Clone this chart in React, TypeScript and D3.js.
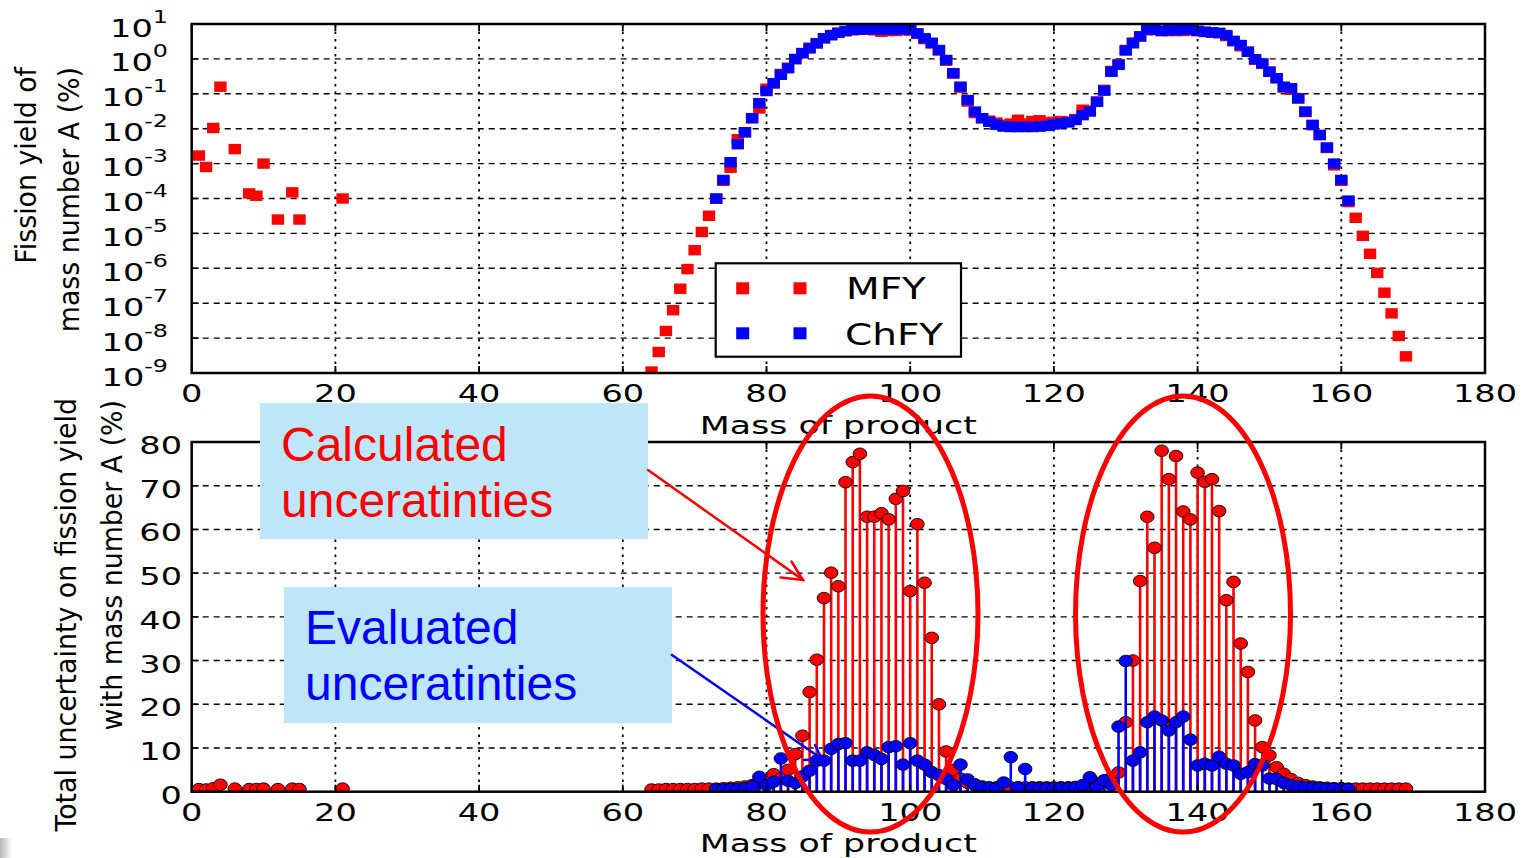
import React from 'react';
import * as d3 from 'd3';

// ---------------- DATA ----------------
// Top panel: fission yield (%) per mass number A
const lowMass = [1, 2, 3, 4, 6, 8, 9, 10, 12, 14, 15, 21];
const lowMFY = [1.7e-3, 8e-4, 1.05e-2, 0.16, 2.6e-3, 1.4e-4, 1.2e-4, 1.0e-3, 2.5e-5, 1.5e-4, 2.5e-5, 1.0e-4];

const mfyMass = d3.range(64, 170);
const mfyYield = [
  1.1e-9, 4.0e-9, 1.6e-8, 6.3e-8, 2.6e-7, 9.5e-7, 3.3e-6, 1.1e-5, 3.2e-5, 9.8e-5,
  3.2e-4, 7.6e-4, 5.0e-3, 7.9e-3, 2.0e-2, 3.8e-2, 0.14, 0.20, 0.37, 0.56,
  1.0, 1.48, 2.1, 2.8, 3.9, 4.8, 5.6, 6.2, 6.6, 6.8,
  6.8, 6.6, 6.0, 6.3, 6.3, 6.6, 6.5, 5.2, 3.7, 2.75,
  1.74, 0.89, 0.38, 0.15, 0.06, 0.028, 0.020, 0.017, 0.015, 0.013,
  0.014, 0.018, 0.014, 0.0166, 0.0174, 0.0151, 0.0158, 0.0166, 0.0158, 0.019,
  0.035, 0.033, 0.060, 0.13, 0.45, 0.71, 1.8, 2.95, 4.4, 6.6,
  6.8, 6.3, 6.3, 6.3, 6.3, 6.6, 6.3, 5.9, 5.6, 5.4,
  4.5, 3.2, 2.3, 1.6, 0.95, 0.72, 0.43, 0.28, 0.15, 0.13,
  0.074, 0.030, 0.0126, 0.0066, 0.0028, 8.9e-4, 3.2e-4, 7.9e-5, 2.8e-5, 8.5e-6,
  2.6e-6, 7.4e-7, 2.0e-7, 5.1e-8, 1.15e-8, 3.0e-9,
];

const chfyMass = d3.range(73, 162);
const chfyYield = [
  1.0e-4, 3.4e-4, 1.1e-3, 3.6e-3, 7.9e-3, 2.0e-2, 5.4e-2, 0.12, 0.20, 0.35,
  0.54, 0.98, 1.45, 2.0, 2.8, 3.9, 4.8, 5.6, 6.3, 6.8,
  6.9, 7.1, 7.1, 6.9, 6.9, 6.9, 6.9, 6.8, 5.4, 3.9,
  2.9, 1.8, 0.93, 0.39, 0.16, 0.066, 0.031, 0.020, 0.0158, 0.0129,
  0.0115, 0.0112, 0.0112, 0.0112, 0.0112, 0.0115, 0.012, 0.0132, 0.0141, 0.0151,
  0.0178, 0.0245, 0.031, 0.059, 0.123, 0.43, 0.68, 1.74, 2.8, 4.4,
  7.1, 6.8, 6.3, 6.6, 6.6, 6.8, 6.8, 6.3, 6.0, 5.75,
  5.6, 4.8, 3.3, 2.5, 1.6, 0.98, 0.74, 0.43, 0.28, 0.16,
  0.145, 0.074, 0.031, 0.0129, 0.0066, 0.0029, 1.0e-3, 3.4e-4, 8.7e-5,
];

// Bottom panel: total uncertainty (%) per mass number A
const lowUnc = [0.6, 0.5, 0.8, 1.6, 0.7, 0.6, 0.6, 0.7, 0.6, 0.7, 0.6, 0.7];

const calcUnc = [
  0.5, 0.5, 0.6, 0.6, 0.6, 0.6, 0.6, 0.7, 0.7,
  0.7, 0.8, 0.9, 1.0, 1.2, 1.5, 2.0, 2.5, 4.0, 3.0, 5.0,
  8.6, 12.8, 22.8, 30.2, 44.3, 50.1, 47.0, 70.8, 75.4, 77.3, 62.9,
  62.9, 63.7, 62.3, 67.0, 68.8, 45.9, 61.2, 47.8, 35.2, 20.0, 9.2,
  5.0, 3.0, 2.0, 1.5, 1.2, 1.0, 1.0, 1.0, 1.0, 1.0, 1.0, 1.0,
  1.0, 1.0, 1.0, 1.0, 1.0, 1.1, 1.3, 1.6, 2.0, 2.5, 3.2, 4.4,
  15.9, 30.0, 48.2, 62.9, 55.8, 78.0, 71.5, 76.8, 64.1, 62.3, 73.0, 70.9, 71.5, 64.2,
  43.8, 48.0, 33.9, 27.4, 16.3, 10.2, 8.3, 5.6, 4.1, 2.9, 2.0, 1.5, 1.2,
  1.0, 0.9, 0.8, 0.8, 0.7, 0.7, 0.7, 0.7, 0.7, 0.7, 0.7, 0.7, 0.7,
];

const evalUnc = [
  0.5, 0.5, 0.6, 0.6, 0.8, 1.2,
  3.4, 1.5, 2.3, 7.6, 2.5, 2.0, 3.5, 4.8, 7.1, 7.1,
  9.8, 10.9, 11.1, 7.1, 7.1, 9.0, 8.4, 7.5, 10.2, 10.4,
  6.2, 11.1, 7.1, 6.2, 4.5, 3.8, 2.9, 1.5, 6.2, 2.8,
  1.7, 1.0, 0.9, 0.8, 2.1, 7.9, 1.0, 5.2, 0.9, 0.8,
  0.8, 0.8, 0.9, 0.9, 1.0, 1.5, 3.3, 1.2, 2.6, 1.5,
  14.9, 29.9, 7.1, 9.0, 15.9, 17.2, 16.3, 14.0, 15.9, 17.2,
  11.9, 6.0, 6.4, 6.0, 8.0, 6.4, 6.0, 4.1, 4.5, 6.3,
  6.0, 3.0, 2.9, 2.0, 1.5, 1.2, 1.0, 0.9, 0.8, 0.7,
  0.7, 0.7, 0.6,
];

const xTicks = [0, 20, 40, 60, 80, 100, 120, 140, 160, 180];
const topExponents = [-9, -8, -7, -6, -5, -4, -3, -2, -1, 0, 1];
const bottomTicks = [0, 10, 20, 30, 40, 50, 60, 70, 80];

const legendLabels = ['MFY', 'ChFY'];
const annotationCalc = ['Calculated', 'unceratinties'];
const annotationEval = ['Evaluated', 'unceratinties'];

// ---------------- LAYOUT ----------------
const W = 1527, H = 858;
const L = 191.7, R = 1485;
const T1 = 24, B1 = 373;
const T2 = 442, B2 = 791.7;
const FONT = "'DejaVu Sans', Verdana, sans-serif";
const SX = 1.4;
const RED = '#ff0000';
const BLUE = '#0000ff';

type STextProps = {
  x: number; y: number; size: number; anchor?: string; sx?: number;
  fill?: string; family?: string; children?: React.ReactNode;
};
const SText = ({ x, y, size, anchor = 'middle', sx = SX, fill = '#000', family = FONT, children }: STextProps) => (
  <text transform={`translate(${x},${y}) scale(${sx},1)`} fontSize={size} textAnchor={anchor as any}
    fill={fill} fontFamily={family}>{children}</text>
);

const VText = ({ x, y, size, children }: { x: number; y: number; size: number; children?: React.ReactNode }) => (
  <text transform={`translate(${x},${y}) rotate(-90) scale(1,1.08)`} fontSize={size} textAnchor="end"
    fontFamily={FONT} fill="#000">{children}</text>
);

export default function App() {
  const x = d3.scaleLinear().domain([0, 180]).range([L, R]);
  const yT = d3.scaleLog().domain([1e-9, 10]).range([B1, T1]);
  const yB = d3.scaleLinear().domain([0, 80]).range([B2, T2]);

  const majorVals = topExponents.map((e) => Math.pow(10, e));
  const minorVals = yT.ticks().filter((v) => {
    const l = Math.log10(v);
    return Math.abs(l - Math.round(l)) > 1e-6;
  });

  const redSquares = [
    ...lowMass.map((a, i) => [a, lowMFY[i]]),
    ...mfyMass.map((a, i) => [a, mfyYield[i]]),
  ];
  const blueSquares = chfyMass.map((a, i) => [a, chfyYield[i]]);

  const redStems = [
    ...lowMass.map((a, i) => [a, lowUnc[i]]),
    ...mfyMass.map((a, i) => [a, calcUnc[i]]),
  ];
  const blueStems = chfyMass.map((a, i) => [a, evalUnc[i]]);

  const hGridStyle = { stroke: '#000', strokeWidth: 1.4, strokeDasharray: '6,5' };
  const vGridStyle = { stroke: '#000', strokeWidth: 1.8, strokeDasharray: '2.5,5' };

  const stemGroup = (pts: number[][], color: string) => (
    <g>
      {pts.map(([a, v], i) => (
        <line key={'s' + i} x1={x(a)} x2={x(a)} y1={yB(0)} y2={yB(v)} stroke={color} strokeWidth={2.6} />
      ))}
      {pts.map(([a, v], i) => (
        <ellipse key={'m' + i} cx={x(a)} cy={yB(v)} rx={6.8} ry={5.8} fill={color} stroke="#000" strokeWidth={0.9} />
      ))}
    </g>
  );

  return (
    <svg width={W} height={H} viewBox={`0 0 ${W} ${H}`}
      style={{ position: 'absolute', left: 0, top: 0, background: '#fff' }}>
      <defs>
        <clipPath id="clipTop"><rect x={L} y={T1} width={R - L} height={B1 - T1} /></clipPath>
        <clipPath id="clipBot"><rect x={L} y={T2} width={R - L} height={B2 - T2} /></clipPath>
        <linearGradient id="cornerGrad" x1="0" x2="1" y1="0" y2="0">
          <stop offset="0" stopColor="#b8b8b8" />
          <stop offset="1" stopColor="#ffffff" />
        </linearGradient>
      </defs>
      <rect x={0} y={0} width={W} height={H} fill="#fff" />

      {/* ============ TOP PANEL ============ */}
      <g>
        {majorVals.slice(1, -1).map((v, i) => (
          <line key={'hg' + i} x1={L} x2={R} y1={yT(v)} y2={yT(v)} {...hGridStyle} />
        ))}
        {xTicks.slice(1, -1).map((t, i) => (
          <line key={'vg' + i} x1={x(t)} x2={x(t)} y1={T1} y2={B1} {...vGridStyle} />
        ))}
        <g clipPath="url(#clipTop)">
          {redSquares.map(([a, v], i) => (
            <rect key={'r' + i} x={x(a) - 6.2} y={yT(v) - 5.2} width={12.4} height={10.4} fill={RED} />
          ))}
          {blueSquares.map(([a, v], i) => (
            <rect key={'b' + i} x={x(a) - 6.2} y={yT(v) - 5.2} width={12.4} height={10.4} fill={BLUE} />
          ))}
        </g>
        {majorVals.map((v, i) => (
          <g key={'mt' + i}>
            <line x1={L} x2={L + 7} y1={yT(v)} y2={yT(v)} stroke="#000" strokeWidth={1.5} />
            <line x1={R} x2={R - 7} y1={yT(v)} y2={yT(v)} stroke="#000" strokeWidth={1.5} />
          </g>
        ))}
        {minorVals.map((v, i) => (
          <g key={'nt' + i}>
            <line x1={L} x2={L + 4} y1={yT(v)} y2={yT(v)} stroke="#000" strokeWidth={1.2} />
            <line x1={R} x2={R - 4} y1={yT(v)} y2={yT(v)} stroke="#000" strokeWidth={1.2} />
          </g>
        ))}
        {xTicks.map((t, i) => (
          <g key={'xt' + i}>
            <line x1={x(t)} x2={x(t)} y1={B1} y2={B1 - 7} stroke="#000" strokeWidth={1.8} />
            <line x1={x(t)} x2={x(t)} y1={T1} y2={T1 + 7} stroke="#000" strokeWidth={1.8} />
          </g>
        ))}
        <rect x={L} y={T1} width={R - L} height={B1 - T1} fill="none" stroke="#000" strokeWidth={2.5} />

        {topExponents.map((e, i) => (
          <SText key={'yl' + i} x={168} y={yT(Math.pow(10, e)) + 12.5} size={24} anchor="end">
            10<tspan fontSize={17} dy={-14}>{String(e)}</tspan>
          </SText>
        ))}
        {xTicks.map((t, i) => (
          <SText key={'xl' + i} x={x(t)} y={402} size={24}>{String(t)}</SText>
        ))}
        <SText x={(L + R) / 2} y={434} size={24} sx={1.45}>Mass of product</SText>
        <VText x={36} y={67} size={26.8}>Fission yield of</VText>
        <VText x={79} y={67} size={26.8}>mass number A (%)</VText>

        {/* legend */}
        <rect x={715.7} y={263.3} width={245.3} height={93.4} fill="#fff" stroke="#000" strokeWidth={2.2} />
        {[742.7, 800].map((lx, i) => (
          <rect key={'lr' + i} x={lx - 6.5} y={288.3 - 6} width={13} height={12} fill={RED} />
        ))}
        {[742.7, 800].map((lx, i) => (
          <rect key={'lb' + i} x={lx - 6.5} y={333.3 - 6} width={13} height={12} fill={BLUE} />
        ))}
        <SText x={846} y={298.5} size={30} anchor="start" sx={1.3}>{legendLabels[0]}</SText>
        <SText x={845} y={344.5} size={30} anchor="start" sx={1.3}>{legendLabels[1]}</SText>
      </g>

      {/* ============ BOTTOM PANEL ============ */}
      <g>
        {bottomTicks.slice(1, -1).map((v, i) => (
          <line key={'bhg' + i} x1={L} x2={R} y1={yB(v)} y2={yB(v)} {...hGridStyle} />
        ))}
        {xTicks.slice(1, -1).map((t, i) => (
          <line key={'bvg' + i} x1={x(t)} x2={x(t)} y1={T2} y2={B2} {...vGridStyle} />
        ))}
        <g clipPath="url(#clipBot)">
          {stemGroup(redStems, RED)}
          {stemGroup(blueStems, BLUE)}
        </g>
        {bottomTicks.map((v, i) => (
          <g key={'bt' + i}>
            <line x1={L} x2={L + 7} y1={yB(v)} y2={yB(v)} stroke="#000" strokeWidth={1.5} />
            <line x1={R} x2={R - 7} y1={yB(v)} y2={yB(v)} stroke="#000" strokeWidth={1.5} />
          </g>
        ))}
        {xTicks.map((t, i) => (
          <g key={'bxt' + i}>
            <line x1={x(t)} x2={x(t)} y1={B2} y2={B2 - 7} stroke="#000" strokeWidth={1.8} />
            <line x1={x(t)} x2={x(t)} y1={T2} y2={T2 + 7} stroke="#000" strokeWidth={1.8} />
          </g>
        ))}
        <rect x={L} y={T2} width={R - L} height={B2 - T2} fill="none" stroke="#000" strokeWidth={2.5} />
        {bottomTicks.map((v, i) => (
          <SText key={'byl' + i} x={182} y={yB(v) + 12} size={24} anchor="end">{String(v)}</SText>
        ))}
        {xTicks.map((t, i) => (
          <SText key={'bxl' + i} x={x(t)} y={821} size={24}>{String(t)}</SText>
        ))}
        <SText x={(L + R) / 2} y={852} size={24} sx={1.45}>Mass of product</SText>
        <VText x={76} y={398} size={26.8}>Total uncertainty on fission yield</VText>
        <VText x={122} y={400} size={26.8}>with mass number A (%)</VText>
      </g>

      {/* ============ ANNOTATIONS ============ */}
      <rect x={260} y={403} width={388} height={136} fill="#bee6f9" />
      <rect x={284} y={587} width={388} height={136} fill="#bee6f9" />
      <text x={281} y={461} fontSize={48} fill={RED} fontFamily="'Liberation Sans', Arial, sans-serif">{annotationCalc[0]}</text>
      <text x={281} y={517} fontSize={48} fill={RED} fontFamily="'Liberation Sans', Arial, sans-serif">{annotationCalc[1]}</text>
      <text x={305} y={644} fontSize={48} fill={BLUE} fontFamily="'Liberation Sans', Arial, sans-serif">{annotationEval[0]}</text>
      <text x={305} y={700} fontSize={48} fill={BLUE} fontFamily="'Liberation Sans', Arial, sans-serif">{annotationEval[1]}</text>

      <g stroke={RED} strokeWidth={2.5} fill="none" strokeLinecap="round">
        <line x1={648} y1={470} x2={803} y2={580} />
        <polyline points="791.5,561.5 803,580 780.5,577.5" />
      </g>
      <g stroke={BLUE} strokeWidth={2.5} fill="none" strokeLinecap="round">
        <line x1={672} y1={655} x2={822} y2={759} />
        <polyline points="815,745 822,759 804,760" />
      </g>

      <ellipse cx={870.5} cy={614} rx={107.5} ry={218} fill="none" stroke={RED} strokeWidth={5} />
      <ellipse cx={1183} cy={614} rx={107.5} ry={218} fill="none" stroke={RED} strokeWidth={5} />

      <rect x={0} y={838} width={12} height={20} fill="url(#cornerGrad)" />
    </svg>
  );
}
